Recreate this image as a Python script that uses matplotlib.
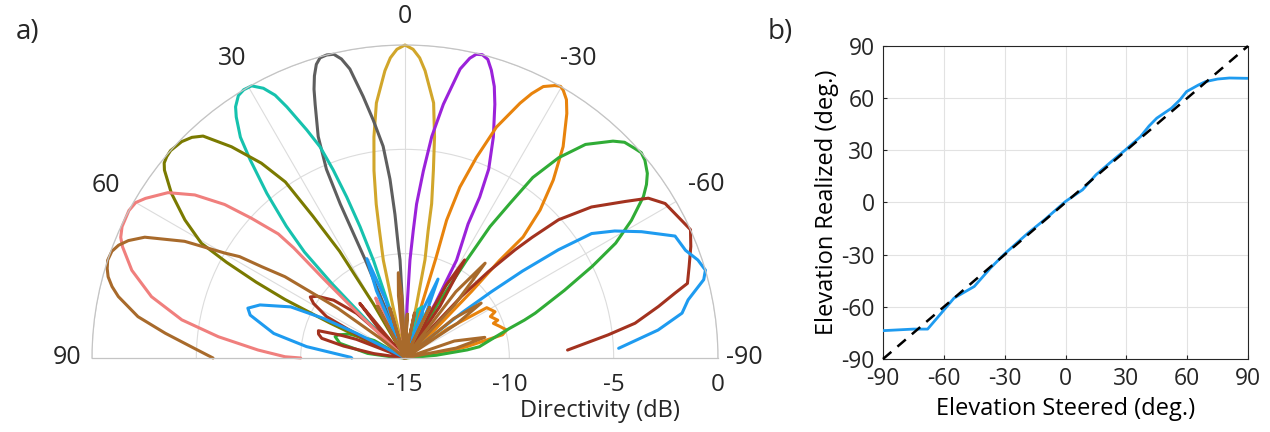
import matplotlib
matplotlib.use("Agg")
import matplotlib.pyplot as plt
import matplotlib.transforms as mtransforms
import numpy as np

# --- panel a) beam patterns, angle (deg, + to the left) and directivity (dB) ---
YEL_T = [-13.0, -12.3, -11.5, -10.3, -9.8, -8.6, -7.6, -6.4, -4.0, -2.8, -1.5, 0.0, 1.5, 2.8, 4.0, 6.4, 8.0, 9.4, 10.6, 11.3, 12.5, 13.2, 14.0]
YEL_R = [-15, -12.5, -10.2, -8.8, -7.5, -5.9, -4.3, -2.7, -1.2, -0.6, -0.2, 0.0, -0.2, -0.6, -1.2, -2.7, -4.3, -5.9, -7.5, -8.7, -10.2, -12.5, -15]

PUR_T = [-30.5, -29.0, -27.8, -25.2, -24.9, -23.9, -21.8, -19.5, -18.2, -16.7, -15.5, -14.3, -13.2, -12.2, -10.8,
         -8.6, -6.9, -5.6, -4.3, -3.7, -2.9, -2.3, -1.8]
PUR_R = [-15, -12.0, -9.7, -7.9, -6.5, -5.1, -3.6, -2.1, -1.3, -0.6, -0.15, 0.0, -0.05, -0.3, -0.9,
         -2.7, -4.3, -6.0, -7.6, -8.9, -10.3, -12.5, -15]

GRY_T = [2.2, 2.6, 2.9, 3.4, 4.0, 4.8, 5.9, 7.6, 9.1, 10.8, 12.0, 13.2, 14.5, 15.8, 16.8, 17.8, 18.7, 19.5,
         21.4, 22.6, 22.8, 22.5, 22.0, 21.5, 21.0]
GRY_R = [-15, -12.5, -10.3, -9.7, -8.1, -6.4, -4.8, -3.5, -2.3, -0.9, -0.35, -0.05, 0.0, -0.05, -0.3, -0.8, -1.4, -2.1,
         -3.6, -5.2, -7.0, -8.5, -10.0, -12.5, -15]

ORA_T = [-86, -83, -79.6, -77.6, -76.6, -74.6, -71.7, -68.6, -67.8, -64.1, -62.8, -58.4, -55.5, -52,
         -47.5, -46.5, -45, -44.1, -44.3, -42.4, -39.8, -36.8, -33.5, -32.0, -30.6,
         -29.8, -28.8, -27, -25.6, -24.3, -21.6, -19.6, -17.8, -16.8, -17.2, -17.5, -17.8]
ORA_R = [-15, -13.5, -12.0, -11.0, -10.2, -9.95, -10.2, -10.45, -10.2, -10.45, -10.15, -10.4, -12.5, -15,
         -15, -13.0, -10.5, -8.5, -6.9, -5.4, -3.9, -2.35, -0.95, -0.4, -0.1,
         0.0, -0.1, -0.4, -0.95, -1.6, -3.1, -4.8, -6.4, -8.1, -10.0, -12.5, -15]

CYA_T = [-24, -22, -19, -15, -12.5, 16.5, 17.2, 17.9, 18.9, 19.9, 20.9, 21.9, 23.3, 25.2, 26.3, 27.7, 29.4,
         31.0, 32.4, 34.0, 35.0, 36.7, 38.0, 40.0, 42.0, 43.5, 44.5, 45.5, 46.0]
CYA_R = [-15, -12.8, -12.4, -12.6, -15, -15, -12.5, -10.1, -8.35, -6.8, -5.35, -4.1, -3.1, -1.7, -0.95, -0.4, -0.03,
         0.0, -0.1, -0.48, -0.9, -1.8, -2.95, -4.7, -6.5, -8.0, -10.0, -12.5, -15]

GRN_T = [-87, -85, -82.6, -81.4, -78, -74.2, -72.4, -71, -67, -63.9, -61.4, -58.7, -55.9, -54.3, -52.7, -50.5, -49,
         -47.6, -45.5, -43.8, -40.2, -37.5, -35.3, -34.2, -32.9, -32.2, -31.3, -30.5,
         58, 60.4, 66.7, 71, 73, 77.3, 83, 86, 88]
GRN_R = [-15, -13.5, -12.0, -11.4, -10.8, -9.8, -9.0, -8.4, -6.7, -5.0, -3.5, -2.3, -1.2, -0.75, -0.4, -0.1, 0.0,
         -0.1, -0.25, -0.6, -1.6, -2.9, -4.4, -6.0, -7.5, -9.5, -12.0, -15,
         -15, -13.3, -12.1, -11.6, -11.5, -11.8, -13.2, -14.5, -15]

OLV_T = [29.5, 30.3, 31.5, 33.0, 34.2, 36.4, 39.4, 42.3, 44.0, 45.9, 48.5, 49.8, 51.0, 52.0, 54.8, 57.9,
         60.6, 61.8, 63.0, 64.0, 65.0, 66.2, 67.0]
OLV_R = [-15, -12.0, -9.0, -6.9, -4.8, -3.4, -1.9, -0.62, -0.3, -0.1, 0.0, -0.05, -0.15, -0.37, -1.3, -2.55,
         -3.8, -5.3, -7.0, -8.6, -11.0, -13.5, -15]

RED_T = [-87.2, -83.5, -81.4, -78.5, -76.5, -75.2, -72.2, -68.7, -65.8, -63.5, -59.3, -56.7, -54.6, -51.0,
         -48.0, -46.5, -45.5, -44.0, -42.5, -41.5, -41.0,
         -36.0, -34.0, -31.3, -29.5, -27.0,
         36.0, 39.6, 41.5, 43.0,
         45.4, 47.3, 51.0, 54.9, 57.2, 59.2, 62.2, 64.0, 66.0, 67.0,
         69.0, 70.5, 72.5, 74.5, 76.7, 79.0, 82.0, 85.0]
RED_R = [-7.2, -5.2, -3.85, -2.6, -1.7, -1.0, -0.7, -0.3, 0.0, -0.2, -0.5, -1.05, -2.05, -3.5,
         -5.1, -6.6, -7.6, -9.25, -11.0, -13.0, -15,
         -15, -12.0, -9.5, -11.0, -15,
         -15, -11.6, -13.0, -15,
         -13.5, -11.85, -10.6, -9.85, -9.6, -9.9, -10.75, -12.5, -14.5, -15,
         -12.5, -11.7, -10.65, -10.7, -10.9, -12.0, -13.5, -15]

PNK_T = [2.0, 3.5, 5.0, 6.5, 7.5, 22.5, 24.5, 26.0, 27.5, 30.0,
         47.0, 46.8, 46.3, 45.8, 45.3, 45.6, 47.7, 49.6, 52.2, 55.1, 58.4, 60.0, 61.9, 65.1, 67.0, 68.5, 72.2,
         76.4, 80.3, 83.5, 86.9, 89.4, 90.0]
PNK_R = [-15, -12.8, -12.0, -13.0, -15, -15, -12.5, -11.8, -12.3, -15,
         -15, -13.5, -11.5, -9.5, -7.5, -6.5, -5.05, -3.65, -2.25, -1.15, -0.4, -0.1, 0.0, -0.05, -0.2, -0.45, -1.25,
         -2.5, -4.15, -6.0, -7.95, -9.25, -10.0]

BLU_T = [-87.4, -83.7, -80.8, -78.4, -75.3, -73.7, -71.5, -69.0, -65.7, -61.9, -58.8, -56.3, -54.8, -53.5,
         -52.5, -51.5, -51.0, -50.5,
         -27.0, -25.0, -22.7, -20.5, -18.5,
         16.5, 18.5, 21.0, 23.0, 25.0,
         61.0, 62.4, 63.0, 64.1, 65.9, 69.9, 72.4, 74.5, 79.4, 83.4, 89.3, 90.0]
BLU_R = [-4.75, -2.8, -1.55, -1.15, -0.2, 0.0, -0.2, -0.6, -0.8, -2.15, -3.25, -4.25, -6.0, -8.0,
         -9.8, -11.5, -13.5, -15,
         -15, -12.5, -10.9, -12.5, -15,
         -15, -12.0, -9.9, -11.5, -15,
         -15, -13.8, -12.4, -10.65, -9.0, -7.6, -7.1, -7.3, -8.6, -10.25, -12.4, -12.45]

BRN_T = [-82, -79, -75.5, -71, -67, -58, -56.5, -54.2, -51, -48, -46, -43, -40.2, -37.5, -35,
         -29, -26, -23, -16, -12, -8, -5, -3, -1, 1.5, 3, 4.5, 6, 7.5, 13, 17, 21, 24, 28, 32,
         50, 51.5, 53.5, 55, 55.9, 57.5, 58.5, 59.8, 62.1, 65.1, 67.0, 68.5, 70.0, 71.8, 73.3, 74.7, 76.3, 77.9,
         81.2, 84.1, 87.4, 90]
BRN_R = [-15, -12.5, -11.05, -12.5, -15, -15, -12, -10.5, -12, -15, -15, -11.5, -9.05, -11, -15,
         -15, -12.3, -15, -15, -12.8, -15, -15, -12.9, -15, -15, -12, -10.9, -12, -15, -15, -12.5, -15, -15, -12.2, -15,
         -15, -13.5, -11, -9.5, -8.05, -6.85, -5.7, -5.0, -3.05, -1.25, -0.6, -0.25, -0.05, 0.0, -0.1, -0.25, -0.55, -0.95,
         -2.05, -3.45, -4.9, -5.8]

THETA_TICKS = [-90, -60, -30, 0, 30, 60, 90]
R_TICKS = [-15, -10, -5, 0]

# --- panel b) steering accuracy ---
STEER = [-90, -75, -68, -63, -55, -45, -37, -30, -18.5, -10, 0, 8.4, 15, 23.6, 29.5, 37, 41.2, 45,
         52.2, 56.4, 59.7, 65.6, 69, 75, 80.8, 90]
REAL = [-73.7, -72.8, -72.8, -66, -55, -48.3, -37.7, -29.5, -17.6, -9.6, 0.6, 7.3, 15.9, 24.5, 30.2, 37.9, 44, 48.5,
        54.2, 59, 63.8, 67.6, 69.5, 71, 71.6, 71.4]
IDEAL = [-90, 90]
AX_TICKS = [-90, -60, -30, 0, 30, 60, 90]

TXT = "#262626"
plt.rcParams["font.family"] = ["Open Sans", "DejaVu Sans"]
plt.rcParams["text.color"] = TXT
plt.rcParams["axes.unicode_minus"] = False

fig = plt.figure(figsize=(12.7, 4.32), dpi=100)

# a) half polar plot; the axes box is square, the half disk sits in its middle
ax = fig.add_axes([92 / 1270, (432 - 514.5) / 432, 626 / 1270, 626 / 432], projection="polar")
ax.set_theta_zero_location("N")
ax.set_theta_direction(1)
ax.set_thetamin(-90)
ax.set_thetamax(90)
ax.set_rlim(-15, 0)
ax.set_rticks([-10, -5, 0])
ax.set_yticklabels([])
ax.set_thetagrids([-60, -30, 0, 30, 60], labels=[""] * 5)
ax.grid(True, color="#dcdcdc", lw=0.8)
for sp in ax.spines.values():
    sp.set_color("#c4c4c4")
    sp.set_linewidth(0.9)

beams = [
    (YEL_T, YEL_R, "#D1A62B"),
    (PUR_T, PUR_R, "#9B22DA"),
    (GRY_T, GRY_R, "#5E5E5E"),
    (ORA_T, ORA_R, "#E8830C"),
    (CYA_T, CYA_R, "#16C2AE"),
    (GRN_T, GRN_R, "#30AC36"),
    (OLV_T, OLV_R, "#7A7A00"),
    (RED_T, RED_R, "#A3321F"),
    (PNK_T, PNK_R, "#F07F7D"),
    (BLU_T, BLU_R, "#1E9BF0"),
    (BRN_T, BRN_R, "#A86A2B"),
]
for th, db, col in beams:
    ax.plot(np.deg2rad(th), db, color=col, lw=2.2, clip_on=False,
            solid_capstyle="round", solid_joinstyle="round")

label_r = {-90: 1.25, -60: 1.65, -30: 1.6, 0: 1.35, 30: 1.6, 60: 1.55, 90: 1.2}
for t in THETA_TICKS:
    ax.text(np.deg2rad(t), label_r[t], str(t), ha="center", va="center",
            fontsize=18, clip_on=False)

below = mtransforms.offset_copy(ax.transData, fig=fig, y=-27, units="dots")
for v in R_TICKS:
    ax.text(np.deg2rad(-90), v, str(v), transform=below, ha="center", va="center",
            fontsize=17.5, clip_on=False)
fig.text(600 / 1270, 1 - 411 / 432, "Directivity (dB)", ha="center", va="center", fontsize=17)

# b) realized vs steered elevation
ax2 = fig.add_axes([883 / 1270, 73 / 432, 365 / 1270, 313 / 432])
ax2.plot(STEER, REAL, color="#1E9BF0", lw=2.0, zorder=3)
ax2.plot(IDEAL, IDEAL, color="black", lw=1.8, dashes=(4.4, 3.2), zorder=4, clip_on=False)
ax2.set_xlim(-90, 90)
ax2.set_ylim(-90, 90)
ax2.set_xticks(AX_TICKS)
ax2.set_yticks(AX_TICKS)
ax2.grid(True, color="#e2e2e2", lw=0.8)
ax2.tick_params(direction="in", length=3, labelsize=16.5, colors=TXT, pad=6)
for sp in ax2.spines.values():
    sp.set_color("#262626")
    sp.set_linewidth(0.8)
ax2.set_xlabel("Elevation Steered (deg.)", fontsize=17)
ax2.set_ylabel("Elevation Realized (deg.)", fontsize=17)
ax2.xaxis.set_label_coords(0.5, -0.12)
ax2.yaxis.set_label_coords(-0.12, 0.5)

fig.text(28 / 1270, 1 - 32 / 432, "a)", ha="center", va="center", fontsize=20)
fig.text(780 / 1270, 1 - 32 / 432, "b)", ha="center", va="center", fontsize=20)

fig.savefig("out.png", dpi=100)
